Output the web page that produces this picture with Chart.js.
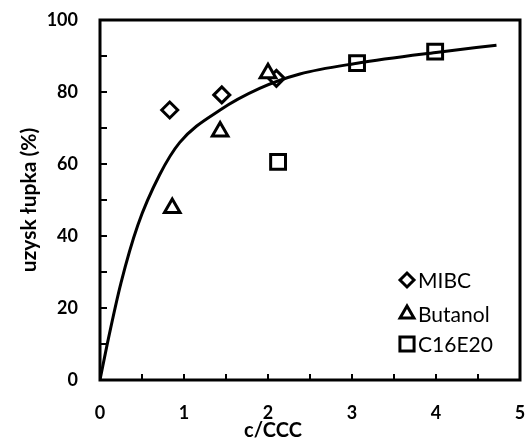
<!DOCTYPE html>
<html>
<head>
<meta charset="utf-8">
<script src="https://cdn.jsdelivr.net/npm/chart.js@4/dist/chart.umd.min.js"></script>
<style>
  html, body { margin: 0; padding: 0; background: #fff; }
  #wrap { width: 527px; height: 442px; }
</style>
</head>
<body>
<div id="wrap"><canvas id="uzyskChart" width="527" height="442"></canvas></div>
<script>
// dane
const mibcX = [0.83, 1.45, 2.1];
const mibcY = [75, 79.2, 83.8];
const butanolX = [0.86, 1.43, 2.0];
const butanolY = [47.8, 69, 85.2];
const c16X = [2.12, 3.06, 3.99];
const c16Y = [60.6, 88, 91.2];
// krzywa dopasowania
const curveX = [0, 0.1, 0.25, 0.45, 0.71, 0.95, 1.43, 1.9, 2.38, 3.06, 4.0, 4.72];
const curveY = [0, 11.5, 27, 43, 57, 66, 75, 81, 85, 88, 91, 93];
const xTicks = [0, 1, 2, 3, 4, 5];
const yTicks = [0, 20, 40, 60, 80, 100];
const legendLabels = ['MIBC', 'Butanol', 'C16E20'];
const xTitle = 'c/CCC';

const toPts = (xs, ys) => xs.map((x, i) => ({x: x, y: ys[i]}));

const FONT = "Lato, 'Open Sans', sans-serif";

// ramka, kreski podziałki do środka, tytuł osi X i legenda
const ramka = {
    id: 'ramka',
    afterDraw(chart) {
        const c = chart.ctx;
        const a = chart.chartArea;
        const xs = chart.scales.x, ys = chart.scales.y;
        c.save();
        c.strokeStyle = '#000';
        c.lineWidth = 3;
        c.strokeRect(a.left, a.top, a.right - a.left, a.bottom - a.top);
        c.lineWidth = 2;
        c.beginPath();
        for (let v = 0; v <= 100; v += 10) {
            const py = ys.getPixelForValue(v);
            c.moveTo(a.left, py);
            c.lineTo(a.left + 7, py);
        }
        for (let v = 0; v <= 5; v += 0.5) {
            const px = xs.getPixelForValue(v);
            c.moveTo(px, a.bottom);
            c.lineTo(px, a.bottom - 6);
        }
        c.stroke();

        // tytuł osi X (w oryginale przesunięty w lewo)
        c.fillStyle = '#000';
        c.font = 'bold 20px ' + FONT;
        c.textAlign = 'center';
        c.textBaseline = 'middle';
        c.fillText(xTitle, 273, 431);

        // legenda
        const styles = ['rectRot', 'triangle', 'rect'];
        const rads = [7, 8, 10];
        const rowsY = [280, 314, 344];
        c.lineWidth = 3;
        c.font = '21px ' + FONT;
        c.textAlign = 'left';
        for (let i = 0; i < legendLabels.length; i++) {
            c.fillStyle = '#fff';
            Chart.helpers.drawPoint(c, {pointStyle: styles[i], radius: rads[i], rotation: 0, borderWidth: 3}, 407, rowsY[i]);
            c.fillStyle = '#000';
            c.fillText(legendLabels[i], 418, rowsY[i] + 1);
        }
        c.restore();
    }
};

// bez dodatkowego marginesu od etykiet
function noPad(s) {
    s.paddingLeft = 0; s.paddingRight = 0; s.paddingTop = 0; s.paddingBottom = 0;
}

let ctx = document.getElementById('uzyskChart').getContext('2d');
let chart = new Chart(ctx, {
    type: 'scatter',
    data: {
        datasets: [{
            label: 'krzywa',
            data: toPts(curveX, curveY),
            showLine: true,
            borderColor: '#000',
            borderWidth: 3,
            pointRadius: 0,
            cubicInterpolationMode: 'monotone',
            order: 0
        }, {
            label: legendLabels[2],
            data: toPts(c16X, c16Y),
            pointStyle: 'rect',
            pointRadius: 10.5,
            borderColor: '#000',
            backgroundColor: 'rgba(255,255,255,0)',
            borderWidth: 3,
            order: 1
        }, {
            label: legendLabels[1],
            data: toPts(butanolX, butanolY),
            pointStyle: 'triangle',
            pointRadius: 9,
            borderColor: '#000',
            backgroundColor: '#fff',
            borderWidth: 3,
            order: 2
        }, {
            label: legendLabels[0],
            data: toPts(mibcX, mibcY),
            pointStyle: 'rectRot',
            pointRadius: 8,
            borderColor: '#000',
            backgroundColor: '#fff',
            borderWidth: 3,
            order: 3
        }]
    },
    options: {
        responsive: false,
        animation: false,
        layout: { autoPadding: false, padding: { left: 0, top: 20, right: 7, bottom: 0 } },
        plugins: { legend: { display: false }, tooltip: { enabled: false } },
        scales: {
            x: {
                type: 'linear', min: 0, max: 5,
                afterFit(s) { s.height = 62; noPad(s); },
                afterBuildTicks(s) { s.ticks = xTicks.map(v => ({value: v})); },
                grid: { display: false, drawTicks: false },
                border: { display: false },
                ticks: { color: '#000', padding: 22, font: { family: FONT, size: 18, weight: 'bold' } }
            },
            y: {
                type: 'linear', min: 0, max: 100,
                afterFit(s) { s.width = 100; noPad(s); },
                afterBuildTicks(s) { s.ticks = yTicks.map(v => ({value: v})); },
                grid: { display: false, drawTicks: false },
                border: { display: false },
                ticks: { color: '#000', padding: 22, font: { family: FONT, size: 18, weight: 'bold' } },
                title: { display: true, text: 'uzysk łupka (%)', color: '#000', padding: { top: 17, bottom: 0 },
                         font: { family: FONT, size: 21, weight: 'bold' } }
            }
        }
    },
    plugins: [ramka]
});
</script>
</body>
</html>
